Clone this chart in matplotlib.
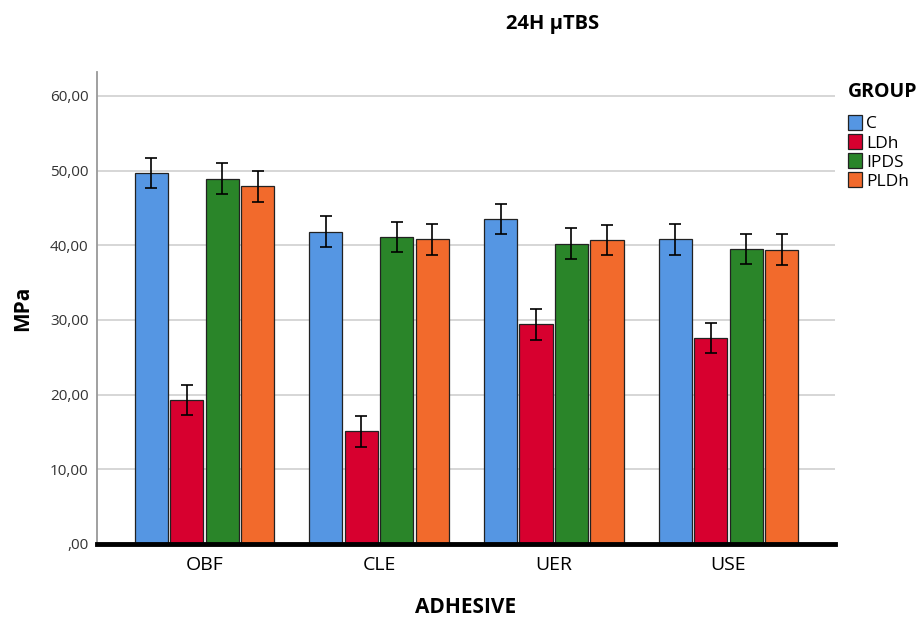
import matplotlib.pyplot as plt
import numpy as np
from matplotlib.ticker import FuncFormatter

plt.rcParams['font.family'] = ['Open Sans', 'DejaVu Sans']

adhesives = ['OBF', 'CLE', 'UER', 'USE']
groups = ['C', 'LDh', 'IPDS', 'PLDh']
colors = ['#5596E3', '#D7002F', '#2A8529', '#F26A2C']

means_C = [49.7, 41.8, 43.5, 40.8]
means_LDh = [19.3, 15.1, 29.4, 27.6]
means_IPDS = [48.9, 41.1, 40.2, 39.5]
means_PLDh = [47.9, 40.8, 40.7, 39.4]
err = [2.05, 2.05, 2.05, 2.05]

means = [means_C, means_LDh, means_IPDS, means_PLDh]

fig = plt.figure(figsize=(9.21, 6.19), dpi=100)
ax = fig.add_axes([0.1053, 0.1212, 0.8013, 0.7625])

x = np.arange(len(adhesives))
pitch = 0.203
width = 0.19
for i, (g, m, c) in enumerate(zip(groups, means, colors)):
    pos = x + (i - 1.5) * pitch
    ax.bar(pos, m, width, color=c, edgecolor='#222222', linewidth=0.9, label=g, zorder=3)
    ax.errorbar(pos, m, yerr=err, fmt='none', ecolor='black', elinewidth=1.2,
                capsize=4, capthick=1.2, zorder=4)

ax.set_xlim(-0.615, 3.61)
ax.set_ylim(0, 63.2)
ax.set_yticks([0, 10, 20, 30, 40, 50, 60])
ax.yaxis.set_major_formatter(FuncFormatter(lambda v, p: ',00' if v == 0 else f'{int(v)},00'))
ax.set_xticks(x)
ax.set_xticklabels(adhesives, fontsize=14)
ax.tick_params(axis='y', length=0, labelsize=11, labelcolor='#333333', pad=6)
ax.tick_params(axis='x', length=0, pad=9)
ax.grid(axis='y', color='#d0d0d0', linewidth=1.2, zorder=0)

ax.spines['top'].set_visible(False)
ax.spines['right'].set_visible(False)
ax.spines['left'].set_color('#999999')
ax.spines['left'].set_linewidth(1.3)
ax.spines['bottom'].set_color('black')
ax.spines['bottom'].set_linewidth(3.5)
ax.spines['bottom'].set_zorder(5)

ax.set_xlabel('ADHESIVE', fontsize=15, fontweight='bold', labelpad=16)
ax.set_ylabel('MPa', fontsize=15, fontweight='bold', labelpad=12)

fig.text(553 / 921, 1 - 24 / 619, '24H µTBS', fontsize=14.5, fontweight='bold',
         ha='center', va='center')

leg = ax.legend(title='GROUP', loc='upper left', bbox_to_anchor=(1.017, 0.978),
                frameon=False, fontsize=12.5, handlelength=0.85, handleheight=0.95,
                handletextpad=0.2, labelspacing=0.1, borderaxespad=0, borderpad=0)
leg.get_title().set_fontweight('bold')
leg.get_title().set_fontsize(14)
leg._legend_box.align = 'left'
leg._legend_box.sep = 9

fig.savefig('out.png', dpi=100)
